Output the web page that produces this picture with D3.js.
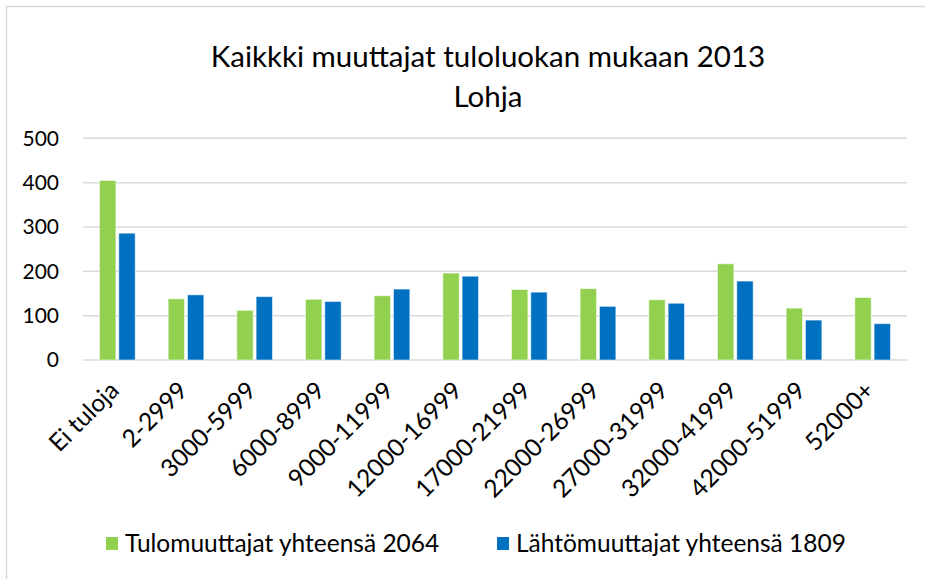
<!DOCTYPE html>
<html>
<head>
<meta charset="utf-8">
<script src="https://cdn.jsdelivr.net/npm/d3@7"></script>
<style>
  body { margin: 0; background: #fff; }
  text { font-family: Lato, "Liberation Sans", Arial, sans-serif; fill: #000; }
</style>
</head>
<body>
<div id="chart"></div>
<script>
// income classes and the two series
const categories = ["Ei tuloja", "2-2999", "3000-5999", "6000-8999", "9000-11999", "12000-16999",
  "17000-21999", "22000-26999", "27000-31999", "32000-41999", "42000-51999", "52000+"];
const seriesNames = ["Tulomuuttajat yhteensä 2064", "Lähtömuuttajat yhteensä 1809"];
const tulo = [405, 138, 112, 137, 145, 196, 159, 161, 136, 217, 117, 141];
const lahto = [286, 147, 143, 132, 160, 189, 153, 121, 128, 178, 90, 82];
const yTicks = [0, 100, 200, 300, 400, 500];
const colors = ["#92D050", "#0070C0"];

const width = 925, height = 579;
const svg = d3.select("#chart").append("svg")
  .attr("width", width).attr("height", height);

svg.append("rect")
  .attr("x", 6.5).attr("y", 6.5)
  .attr("width", width + 10).attr("height", height + 10)
  .attr("fill", "none").attr("stroke", "#d9d9d9").attr("stroke-width", 1.5);

// title
svg.append("text").attr("x", 488).attr("y", 67)
  .attr("text-anchor", "middle").style("font-size", "29.5px")
  .text("Kaikkki muuttajat tuloluokan mukaan 2013");
svg.append("text").attr("x", 488).attr("y", 107)
  .attr("text-anchor", "middle").style("font-size", "29.5px")
  .text("Lohja");

const x0 = d3.scaleBand().domain(categories).range([83, 907]).padding(0);
const groupW = x0.bandwidth() * 0.52;
const x1 = d3.scaleBand().domain(seriesNames).range([0, groupW]).paddingInner(0.15);
const y = d3.scaleLinear().domain([0, 500]).range([360, 138.3]);

// gridlines
svg.append("g").selectAll("line").data(yTicks).enter().append("line")
  .attr("x1", 83).attr("x2", 907)
  .attr("y1", d => y(d)).attr("y2", d => y(d))
  .attr("stroke", "#d9d9d9").attr("stroke-width", 1.5);

// y axis labels
const yAxis = svg.append("g").attr("transform", "translate(59,0)")
  .call(d3.axisLeft(y).tickValues(yTicks).tickSize(0).tickPadding(0));
yAxis.select(".domain").remove();
yAxis.selectAll("text").style("font-size", "21px").attr("font-family", null);

// bars
const rows = categories.map((c, i) => ({ cat: c, vals: [tulo[i], lahto[i]] }));
const groups = svg.append("g").selectAll("g").data(rows).enter().append("g")
  .attr("transform", d => `translate(${x0(d.cat) + (x0.bandwidth() - groupW) / 2},0)`);
groups.selectAll("rect").data(d => d.vals.map((v, j) => ({ v, s: seriesNames[j], j })))
  .enter().append("rect")
  .attr("x", d => x1(d.s))
  .attr("width", x1.bandwidth())
  .attr("y", d => y(d.v))
  .attr("height", d => y(0) - y(d.v))
  .attr("fill", d => colors[d.j])
  .attr("stroke", "#ffffff").attr("stroke-opacity", 0.55).attr("stroke-width", 1);

// x axis labels rotated
const xAxis = svg.append("g").attr("transform", "translate(0,360)")
  .call(d3.axisBottom(x0).tickSize(0).tickPadding(0));
xAxis.select(".domain").remove();
xAxis.selectAll("text")
  .attr("font-family", null)
  .style("font-size", "24.5px")
  .style("text-anchor", "end")
  .attr("y", 0)
  .attr("dy", 0)
  .attr("transform", "translate(3,32) rotate(-45)");

// legend
const legend = svg.append("g").selectAll("g").data(seriesNames).enter().append("g")
  .attr("transform", (d, i) => `translate(${i === 0 ? 106 : 497},537)`);
legend.append("rect").attr("width", 12).attr("height", 13)
  .attr("fill", (d, i) => colors[i]);
legend.append("text").attr("x", 19).attr("y", 15)
  .style("font-size", "24.5px").text(d => d);
</script>
</body>
</html>
